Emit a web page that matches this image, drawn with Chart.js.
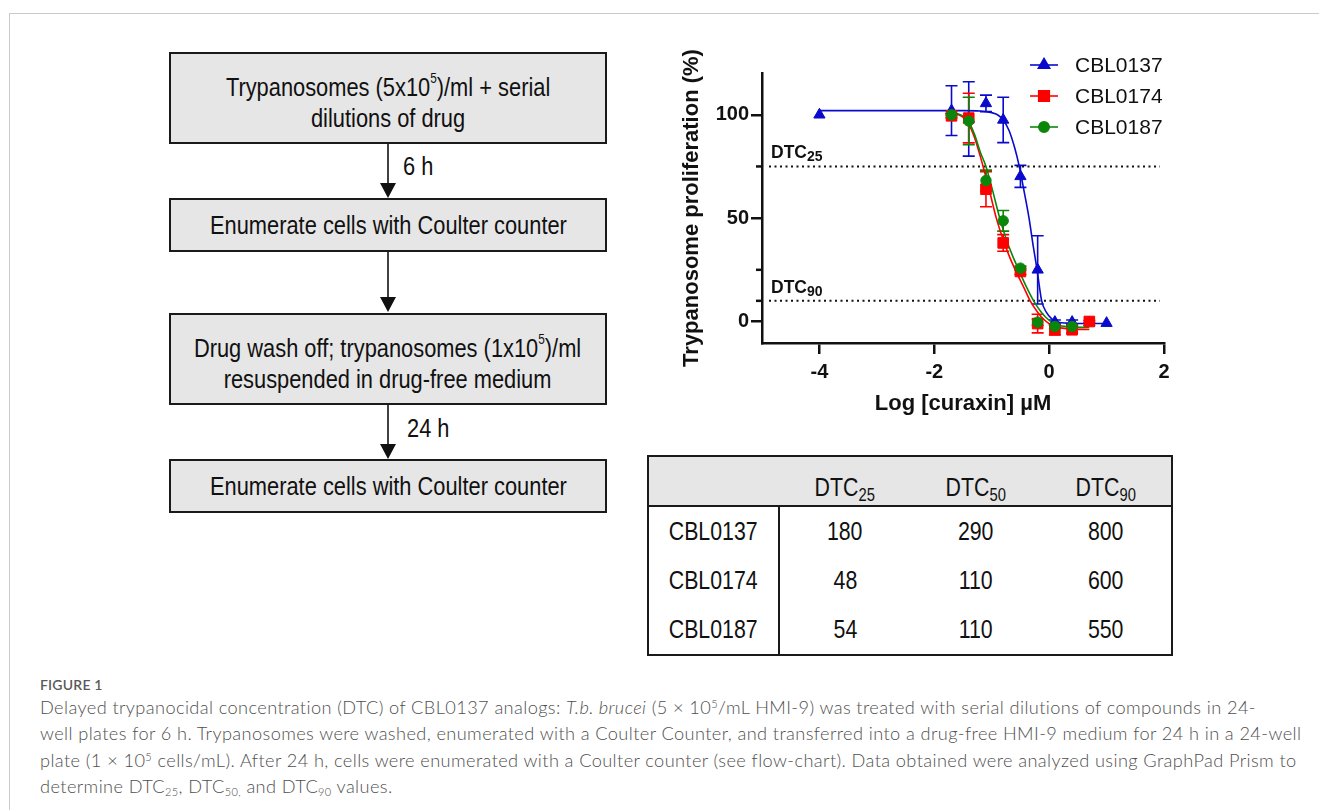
<!DOCTYPE html>
<html>
<head>
<meta charset="utf-8">
<script src="https://cdn.jsdelivr.net/npm/chart.js@4.4.1/dist/chart.umd.min.js"></script>
<style>
  body { margin: 0; background: #fff; width: 1319px; height: 810px; overflow: hidden; position: relative; font-family: "Liberation Sans", Arial, sans-serif; }
  .frame { position: absolute; left: 9px; top: 13px; width: 1400px; height: 900px; border: 1.5px solid #cacaca; }
  .narrow { font-family: "Liberation Sans", Arial, sans-serif; color: #111; }
  .t { display: inline-block; white-space: nowrap; transform: scaleX(0.84); }
  .box { position: absolute; left: 169px; width: 438px; box-sizing: border-box; border: 2px solid #1a1a1a; background: #e6e6e6;
         display: flex; align-items: center; justify-content: center; text-align: center; font-size: 26px; line-height: 31px; }
  .box.two { padding-top: 9px; }
  .box sup { font-size: 14px; position: relative; top: -13px; vertical-align: baseline; line-height: 0; }
  .step { position: absolute; font-size: 26px; line-height: 30px; }
  .step .t { transform-origin: left center; }
  #flow-arrows { position: absolute; left: 0; top: 0; }
  #chart-wrap { position: absolute; left: 670px; top: 40px; width: 520px; height: 380px; }
  .tbl { position: absolute; left: 647px; top: 455px; width: 525px; border-collapse: collapse; font-size: 26px; table-layout: fixed; }
  .tbl .t { transform: scaleX(0.82); }
  .tbl td, .tbl th { width: 131px; text-align: center; padding: 0; font-weight: normal; }
  .tbl thead th { background: #e6e6e6; height: 50px; border-top: 2px solid #1a1a1a; border-bottom: 2px solid #1a1a1a; padding-top: 12px; box-sizing: border-box; }
  .tbl thead th:first-child { border-left: 2px solid #1a1a1a; }
  .tbl thead th:last-child { border-right: 2px solid #1a1a1a; }
  .tbl tbody td { height: 49px; }
  .tbl tbody td:first-child { border-left: 2px solid #1a1a1a; border-right: 2px solid #1a1a1a; }
  .tbl tbody td:last-child { border-right: 2px solid #1a1a1a; }
  .tbl tbody tr:last-child td { border-bottom: 2px solid #1a1a1a; }
  .tbl sub { font-size: 18px; position: relative; top: 5px; vertical-align: baseline; line-height: 0; }
  .caption { position: absolute; left: 40px; top: 676px; font-family: Lato, "Open Sans", sans-serif; color: #4f4f4f; }
  .figlabel { font-size: 14px; font-weight: 600; color: #5a5a5a; line-height: 18px; letter-spacing: 0.2px; }
  .cline { font-size: 18.2px; font-weight: 300; line-height: 26.4px; white-space: nowrap; letter-spacing: 0.4px; }
  .cline sup { font-size: 11px; vertical-align: 6px; line-height: 0; }
  .cline sub { font-size: 11px; vertical-align: -3px; line-height: 0; }
</style>
</head>
<body>
<div class="frame"></div>

<!-- flow chart -->
<svg id="flow-arrows" width="640" height="540">
  <g stroke="#111" stroke-width="1.6">
    <line x1="388" y1="143" x2="388" y2="186"/>
    <line x1="388" y1="252" x2="388" y2="300"/>
    <line x1="388" y1="404" x2="388" y2="447"/>
  </g>
  <g fill="#111">
    <polygon points="380,183 396,183 388,198"/>
    <polygon points="380,297 396,297 388,312"/>
    <polygon points="380,444 396,444 388,459"/>
  </g>
</svg>
<div class="box two narrow" style="top:52px;height:92px;"><span class="t">Trypanosomes (5x10<sup>5</sup>)/ml + serial<br>dilutions of drug</span></div>
<div class="step narrow" style="left:403px;top:151px;"><span class="t">6 h</span></div>
<div class="box narrow" style="top:198px;height:54px;"><span class="t">Enumerate cells with Coulter counter</span></div>
<div class="box two narrow" style="top:313px;height:92px;"><span class="t">Drug wash off; trypanosomes (1x10<sup>5</sup>)/ml<br>resuspended in drug-free medium</span></div>
<div class="step narrow" style="left:407px;top:413px;"><span class="t">24 h</span></div>
<div class="box narrow" style="top:459px;height:54px;"><span class="t">Enumerate cells with Coulter counter</span></div>

<!-- dose response chart -->
<div id="chart-wrap"><canvas id="dtc-chart" width="520" height="380"></canvas></div>

<!-- DTC table -->
<table class="tbl narrow">
  <thead>
    <tr><th></th><th><span class="t">DTC<sub>25</sub></span></th><th><span class="t">DTC<sub>50</sub></span></th><th><span class="t">DTC<sub>90</sub></span></th></tr>
  </thead>
  <tbody>
    <tr><td><span class="t">CBL0137</span></td><td><span class="t">180</span></td><td><span class="t">290</span></td><td><span class="t">800</span></td></tr>
    <tr><td><span class="t">CBL0174</span></td><td><span class="t">48</span></td><td><span class="t">110</span></td><td><span class="t">600</span></td></tr>
    <tr><td><span class="t">CBL0187</span></td><td><span class="t">54</span></td><td><span class="t">110</span></td><td><span class="t">550</span></td></tr>
  </tbody>
</table>

<div class="caption">
  <div class="figlabel">FIGURE 1</div>
  <div class="cline">Delayed trypanocidal concentration (DTC) of CBL0137 analogs: <i>T.b. brucei</i> (5 × 10<sup>5</sup>/mL HMI-9) was treated with serial dilutions of compounds in 24-</div>
  <div class="cline">well plates for 6 h. Trypanosomes were washed, enumerated with a Coulter Counter, and transferred into a drug-free HMI-9 medium for 24 h in a 24-well</div>
  <div class="cline">plate (1 × 10<sup>5</sup> cells/mL). After 24 h, cells were enumerated with a Coulter counter (see flow-chart). Data obtained were analyzed using GraphPad Prism to</div>
  <div class="cline">determine DTC<sub>25</sub>, DTC<sub>50,</sub> and DTC<sub>90</sub> values.</div>
</div>

<script>
'use strict';

/*===== Données =====*/
const seriesNames = ['CBL0137', 'CBL0174', 'CBL0187'];

// points mesurés (log µM, % prolifération, écart)
const blueX   = [-4, -1.7, -1.4, -1.1, -0.8, -0.5, -0.2, 0.1, 0.4, 0.7, 1.0];
const blueY   = [100, 102, 98, 105.5, 97.5, 70.2, 25, -0.3, -0.3, -0.5, -0.8];
const blueErr = [0, 12, 18, 4, 11, 5.3, 16.5, 1, 1, 0, 0];

const redX   = [-1.7, -1.4, -1.1, -0.8, -0.5, -0.2, 0.1, 0.4, 0.7];
const redY   = [99.5, 98.4, 64, 38, 24.2, -1, -4, -4, 0];
const redErr = [1, 12, 8.5, 4, 1.5, 4.5, 2.5, 1.5, 0.5];

const greenX   = [-1.7, -1.4, -1.1, -0.8, -0.5, -0.2, 0.1, 0.4];
const greenY   = [100, 97, 68.2, 48.7, 25.8, -0.3, -2.4, -2.4];
const greenErr = [0.5, 11.5, 5, 5, 1, 1.5, 1, 1];

// courbes ajustées
const blueCurveX = [-4, -1.5, -1.2, -1.0, -0.9, -0.8, -0.7, -0.6, -0.52, -0.45, -0.35, -0.28, -0.21, -0.13, -0.05, 0.05, 0.15, 0.3, 0.5, 1.0];
const blueCurveY = [102, 102, 101.8, 101, 100, 97.5, 92.5, 84, 75, 65, 50, 37, 25, 10, 4.5, 1.2, -0.2, -0.8, -1, -1];

const redCurveX = [-1.7, -1.6, -1.5, -1.4, -1.3, -1.2, -1.15, -1.05, -0.92, -0.8, -0.7, -0.59, -0.45, -0.33, -0.2, -0.1, 0, 0.1, 0.2, 0.35, 0.7];
const redCurveY = [100.8, 100.2, 98.8, 95.5, 89, 80, 75, 64.5, 50, 39.5, 32, 25, 17, 10, 4.5, 1.2, -1, -2.4, -3.1, -3.6, -3.9];

const greenCurveX = [-1.7, -1.6, -1.5, -1.4, -1.3, -1.2, -1.1, -1.0, -0.86, -0.75, -0.64, -0.53, -0.4, -0.27, -0.15, -0.05, 0.05, 0.15, 0.3, 0.7];
const greenCurveY = [101, 100.5, 99.3, 96.5, 90.5, 82, 75, 65, 50, 40, 32, 25, 17, 10, 5, 1.8, -0.4, -1.7, -2.5, -2.9];

// axes et repères
const xTicks = [-4, -2, 0, 2];
const yTicks = [0, 50, 100];
const yMinorTicks = [10, 25, 75];
const dtcLevels = [75, 10];
const dtcNames = ['25', '90'];

/*===== Style =====*/
const BLUE = '#0a0acc';
const RED = '#ff0000';
const GREEN = '#0a870a';
const INK = '#111111';
const FONT = '"Liberation Sans", Arial, sans-serif';

function pts(xs, ys){
  return xs.map((x, i) => ({ x: x, y: ys[i] }));
}

function curveSet(label, xs, ys, color, order){
  return {
    label: label, data: pts(xs, ys), showLine: true, borderColor: color, borderWidth: 1.6,
    pointRadius: 0, cubicInterpolationMode: 'monotone', fill: false, order: order
  };
}

function pointSet(label, xs, ys, errs, color, style, radius, order){
  return {
    label: label, data: pts(xs, ys), errors: errs, showLine: false, pointStyle: style,
    pointRadius: radius, backgroundColor: color, borderColor: color, borderWidth: 1, order: order
  };
}

/*===== Barres d'erreur =====*/
const errorBars = {
  id: 'errorBars',
  beforeDatasetsDraw(chart){
    const c = chart.ctx;
    const yScale = chart.scales.y;
    chart.data.datasets.forEach((ds, i) => {
      if (!ds.errors) return;
      const meta = chart.getDatasetMeta(i);
      c.save();
      c.strokeStyle = ds.borderColor;
      c.lineWidth = 1.6;
      meta.data.forEach((el, j) => {
        const e = ds.errors[j];
        if (!e) return;
        const top = yScale.getPixelForValue(ds.data[j].y + e);
        const bot = yScale.getPixelForValue(ds.data[j].y - e);
        c.beginPath();
        c.moveTo(el.x, top); c.lineTo(el.x, bot);
        c.moveTo(el.x - 6, top); c.lineTo(el.x + 6, top);
        c.moveTo(el.x - 6, bot); c.lineTo(el.x + 6, bot);
        c.stroke();
      });
      c.restore();
    });
  }
};

/*===== Lignes DTC, petites graduations, légende =====*/
const extras = {
  id: 'extras',
  beforeDatasetsDraw(chart){
    const c = chart.ctx;
    const area = chart.chartArea;
    const yScale = chart.scales.y;
    c.save();
    // petites graduations
    c.strokeStyle = INK;
    c.lineWidth = 2.5;
    yMinorTicks.forEach(v => {
      const y = yScale.getPixelForValue(v);
      c.beginPath(); c.moveTo(area.left - 6, y); c.lineTo(area.left, y); c.stroke();
    });
    // lignes pointillées
    c.lineWidth = 2;
    c.setLineDash([2, 3.5]);
    dtcLevels.forEach((v, i) => {
      const y = yScale.getPixelForValue(v);
      c.beginPath(); c.moveTo(area.left + 7, y); c.lineTo(area.right - 4, y); c.stroke();
      c.fillStyle = INK;
      c.textBaseline = 'alphabetic';
      c.font = 'bold 17.5px ' + FONT;
      c.fillText('DTC', area.left + 9, y - 8);
      const w = c.measureText('DTC').width;
      c.font = 'bold 14px ' + FONT;
      c.fillText(dtcNames[i], area.left + 9 + w, y - 5);
    });
    c.restore();
  },
  afterDraw(chart){
    const c = chart.ctx;
    const area = chart.chartArea;
    const styles = [
      { color: BLUE, pointStyle: 'triangle', radius: 6.5 },
      { color: RED, pointStyle: 'rect', radius: 7.5 },
      { color: GREEN, pointStyle: 'circle', radius: 5.2 }
    ];
    c.save();
    seriesNames.forEach((name, i) => {
      const y = area.top - 8 + i * 31;
      const x0 = area.right - 134;
      c.strokeStyle = styles[i].color;
      c.lineWidth = 1.6;
      c.beginPath(); c.moveTo(x0, y); c.lineTo(x0 + 28, y); c.stroke();
      c.fillStyle = styles[i].color;
      Chart.helpers.drawPoint(c, { pointStyle: styles[i].pointStyle, radius: styles[i].radius, borderWidth: 1, rotation: 0 }, x0 + 14, y);
      c.fillStyle = INK;
      c.font = '21px ' + FONT;
      c.textBaseline = 'middle';
      c.fillText(name, x0 + 45, y + 1);
    });
    c.restore();
  }
};

/*===== Graphique =====*/
const cvs = document.getElementById('dtc-chart').getContext('2d');

const doseChart = new Chart(cvs, {
  type: 'scatter',
  data: {
    datasets: [
      curveSet('CBL0137 fit', blueCurveX, blueCurveY, BLUE, 12),
      curveSet('CBL0174 fit', redCurveX, redCurveY, RED, 11),
      curveSet('CBL0187 fit', greenCurveX, greenCurveY, GREEN, 10),
      pointSet(seriesNames[0], blueX, blueY, blueErr, BLUE, 'triangle', 6.5, 3),
      pointSet(seriesNames[1], redX, redY, redErr, RED, 'rect', 7.5, 2),
      pointSet(seriesNames[2], greenX, greenY, greenErr, GREEN, 'circle', 5.2, 1)
    ]
  },
  options: {
    responsive: false,
    animation: false,
    layout: { padding: { top: 33, right: 26, left: 0, bottom: 0 } },
    plugins: {
      legend: { display: false },
      tooltip: { enabled: false }
    },
    scales: {
      x: {
        type: 'linear', min: -5, max: 2,
        afterBuildTicks: axis => { axis.ticks = xTicks.map(v => ({ value: v })); },
        afterFit: axis => { axis.height = 77; },
        grid: { display: true, drawOnChartArea: false, drawTicks: true, tickLength: 11, color: INK, lineWidth: 2.5 },
        border: { display: true, color: INK, width: 2.5 },
        ticks: { autoSkip: false, maxRotation: 0, color: INK, padding: 6, font: { family: FONT, size: 20, weight: 'bold' } },
        title: { display: true, text: 'Log [curaxin] µM', color: INK, padding: { top: 0, bottom: 3 }, font: { family: FONT, size: 22, weight: 'bold' } }
      },
      y: {
        type: 'linear', min: -10.4, max: 120.2,
        afterBuildTicks: axis => { axis.ticks = yTicks.map(v => ({ value: v })); },
        afterFit: axis => { axis.width = 92; },
        grid: { display: true, drawOnChartArea: false, drawTicks: true, tickLength: 11, color: INK, lineWidth: 2.5 },
        border: { display: true, color: INK, width: 2.5 },
        ticks: { autoSkip: false, color: INK, padding: 2, font: { family: FONT, size: 20, weight: 'bold' } },
        title: { display: true, text: 'Trypanosome proliferation (%)', color: INK, padding: { top: 9, bottom: 0 }, font: { family: FONT, size: 22, weight: 'bold' } }
      }
    }
  },
  plugins: [errorBars, extras]
});
</script>
</body>
</html>
